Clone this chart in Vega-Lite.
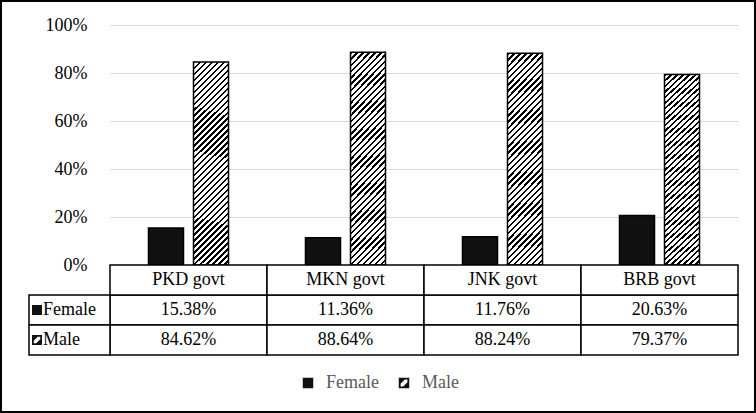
{
  "$schema": "https://vega.github.io/schema/vega-lite/v6.json",
  "width": 754,
  "height": 411,
  "padding": 1,
  "autosize": "none",
  "background": "white",
  "config": {
    "view": {"stroke": "black", "strokeWidth": 2},
    "axis": {"labelFont": "Liberation Serif", "labelFontSize": 18, "labelColor": "black"},
    "text": {"font": "Liberation Serif", "fontSize": 18, "fill": "black"}
  },
  "data": {
    "values": [
      {"cat": "PKD govt", "series": "Female", "value": 0.1538},
      {"cat": "MKN govt", "series": "Female", "value": 0.1136},
      {"cat": "JNK govt", "series": "Female", "value": 0.1176},
      {"cat": "BRB govt", "series": "Female", "value": 0.2063},
      {"cat": "PKD govt", "series": "Male", "value": 0.8462},
      {"cat": "MKN govt", "series": "Male", "value": 0.8864},
      {"cat": "JNK govt", "series": "Male", "value": 0.8824},
      {"cat": "BRB govt", "series": "Male", "value": 0.7937}
    ]
  },
  "layer": [
    {
      "mark": {"type": "bar", "stroke": "black", "strokeWidth": 1.5},
      "encoding": {
        "x": {"field": "cat", "type": "nominal", "scale": {"domain": ["PKD govt", "MKN govt", "JNK govt", "BRB govt"], "range": [109, 737], "paddingInner": 0, "paddingOuter": 0}, "axis": null},
        "xOffset": {"field": "series", "type": "nominal", "scale": {"domain": ["Female", "Male"], "paddingInner": 0.222, "paddingOuter": 0.855}},
        "y": {"field": "value", "type": "quantitative", "scale": {"domain": [0, 1], "range": [264, 24]},
          "axis": {"values": [0, 0.2, 0.4, 0.6, 0.8, 1], "format": ".0%", "grid": true, "gridColor": "#d9d9d9", "gridWidth": 1, "domain": false, "ticks": false, "tickSize": 0, "labelPadding": 23, "offset": -109, "title": null}},
        "fill": {
          "condition": {"test": "datum.series === 'Female'", "value": "#111111"},
          "value": {
            "gradient": "linear", "x1": 0, "y1": 0, "x2": 0.194, "y2": 1.138,
            "stops": [
              {"offset": 0, "color": "black"}, {"offset": 0.01, "color": "black"}, {"offset": 0.01, "color": "white"}, {"offset": 0.025, "color": "white"},
              {"offset": 0.025, "color": "black"}, {"offset": 0.035, "color": "black"}, {"offset": 0.035, "color": "white"}, {"offset": 0.05, "color": "white"},
              {"offset": 0.05, "color": "black"}, {"offset": 0.06, "color": "black"}, {"offset": 0.06, "color": "white"}, {"offset": 0.075, "color": "white"},
              {"offset": 0.075, "color": "black"}, {"offset": 0.085, "color": "black"}, {"offset": 0.085, "color": "white"}, {"offset": 0.1, "color": "white"},
              {"offset": 0.1, "color": "black"}, {"offset": 0.11, "color": "black"}, {"offset": 0.11, "color": "white"}, {"offset": 0.125, "color": "white"},
              {"offset": 0.125, "color": "black"}, {"offset": 0.135, "color": "black"}, {"offset": 0.135, "color": "white"}, {"offset": 0.15, "color": "white"},
              {"offset": 0.15, "color": "black"}, {"offset": 0.16, "color": "black"}, {"offset": 0.16, "color": "white"}, {"offset": 0.175, "color": "white"},
              {"offset": 0.175, "color": "black"}, {"offset": 0.185, "color": "black"}, {"offset": 0.185, "color": "white"}, {"offset": 0.2, "color": "white"},
              {"offset": 0.2, "color": "black"}, {"offset": 0.21, "color": "black"}, {"offset": 0.21, "color": "white"}, {"offset": 0.225, "color": "white"},
              {"offset": 0.225, "color": "black"}, {"offset": 0.235, "color": "black"}, {"offset": 0.235, "color": "white"}, {"offset": 0.25, "color": "white"},
              {"offset": 0.25, "color": "black"}, {"offset": 0.26, "color": "black"}, {"offset": 0.26, "color": "white"}, {"offset": 0.275, "color": "white"},
              {"offset": 0.275, "color": "black"}, {"offset": 0.285, "color": "black"}, {"offset": 0.285, "color": "white"}, {"offset": 0.3, "color": "white"},
              {"offset": 0.3, "color": "black"}, {"offset": 0.31, "color": "black"}, {"offset": 0.31, "color": "white"}, {"offset": 0.325, "color": "white"},
              {"offset": 0.325, "color": "black"}, {"offset": 0.335, "color": "black"}, {"offset": 0.335, "color": "white"}, {"offset": 0.35, "color": "white"},
              {"offset": 0.35, "color": "black"}, {"offset": 0.36, "color": "black"}, {"offset": 0.36, "color": "white"}, {"offset": 0.375, "color": "white"},
              {"offset": 0.375, "color": "black"}, {"offset": 0.385, "color": "black"}, {"offset": 0.385, "color": "white"}, {"offset": 0.4, "color": "white"},
              {"offset": 0.4, "color": "black"}, {"offset": 0.41, "color": "black"}, {"offset": 0.41, "color": "white"}, {"offset": 0.425, "color": "white"},
              {"offset": 0.425, "color": "black"}, {"offset": 0.435, "color": "black"}, {"offset": 0.435, "color": "white"}, {"offset": 0.45, "color": "white"},
              {"offset": 0.45, "color": "black"}, {"offset": 0.46, "color": "black"}, {"offset": 0.46, "color": "white"}, {"offset": 0.475, "color": "white"},
              {"offset": 0.475, "color": "black"}, {"offset": 0.485, "color": "black"}, {"offset": 0.485, "color": "white"}, {"offset": 0.5, "color": "white"},
              {"offset": 0.5, "color": "black"}, {"offset": 0.51, "color": "black"}, {"offset": 0.51, "color": "white"}, {"offset": 0.525, "color": "white"},
              {"offset": 0.525, "color": "black"}, {"offset": 0.535, "color": "black"}, {"offset": 0.535, "color": "white"}, {"offset": 0.55, "color": "white"},
              {"offset": 0.55, "color": "black"}, {"offset": 0.56, "color": "black"}, {"offset": 0.56, "color": "white"}, {"offset": 0.575, "color": "white"},
              {"offset": 0.575, "color": "black"}, {"offset": 0.585, "color": "black"}, {"offset": 0.585, "color": "white"}, {"offset": 0.6, "color": "white"},
              {"offset": 0.6, "color": "black"}, {"offset": 0.61, "color": "black"}, {"offset": 0.61, "color": "white"}, {"offset": 0.625, "color": "white"},
              {"offset": 0.625, "color": "black"}, {"offset": 0.635, "color": "black"}, {"offset": 0.635, "color": "white"}, {"offset": 0.65, "color": "white"},
              {"offset": 0.65, "color": "black"}, {"offset": 0.66, "color": "black"}, {"offset": 0.66, "color": "white"}, {"offset": 0.675, "color": "white"},
              {"offset": 0.675, "color": "black"}, {"offset": 0.685, "color": "black"}, {"offset": 0.685, "color": "white"}, {"offset": 0.7, "color": "white"},
              {"offset": 0.7, "color": "black"}, {"offset": 0.71, "color": "black"}, {"offset": 0.71, "color": "white"}, {"offset": 0.725, "color": "white"},
              {"offset": 0.725, "color": "black"}, {"offset": 0.735, "color": "black"}, {"offset": 0.735, "color": "white"}, {"offset": 0.75, "color": "white"},
              {"offset": 0.75, "color": "black"}, {"offset": 0.76, "color": "black"}, {"offset": 0.76, "color": "white"}, {"offset": 0.775, "color": "white"},
              {"offset": 0.775, "color": "black"}, {"offset": 0.785, "color": "black"}, {"offset": 0.785, "color": "white"}, {"offset": 0.8, "color": "white"},
              {"offset": 0.8, "color": "black"}, {"offset": 0.81, "color": "black"}, {"offset": 0.81, "color": "white"}, {"offset": 0.825, "color": "white"},
              {"offset": 0.825, "color": "black"}, {"offset": 0.835, "color": "black"}, {"offset": 0.835, "color": "white"}, {"offset": 0.85, "color": "white"},
              {"offset": 0.85, "color": "black"}, {"offset": 0.86, "color": "black"}, {"offset": 0.86, "color": "white"}, {"offset": 0.875, "color": "white"},
              {"offset": 0.875, "color": "black"}, {"offset": 0.885, "color": "black"}, {"offset": 0.885, "color": "white"}, {"offset": 0.9, "color": "white"},
              {"offset": 0.9, "color": "black"}, {"offset": 0.91, "color": "black"}, {"offset": 0.91, "color": "white"}, {"offset": 0.925, "color": "white"},
              {"offset": 0.925, "color": "black"}, {"offset": 0.935, "color": "black"}, {"offset": 0.935, "color": "white"}, {"offset": 0.95, "color": "white"},
              {"offset": 0.95, "color": "black"}, {"offset": 0.96, "color": "black"}, {"offset": 0.96, "color": "white"}, {"offset": 0.975, "color": "white"},
              {"offset": 0.975, "color": "black"}, {"offset": 0.985, "color": "black"}, {"offset": 0.985, "color": "white"}, {"offset": 1, "color": "white"}
            ]
          }
        }
      }
    },
    {
      "mark": {"type": "rect", "fill": "white", "stroke": "black", "strokeWidth": 1.5},
      "encoding": {
        "x": {"field": "cat", "type": "nominal", "scale": {"domain": ["PKD govt", "MKN govt", "JNK govt", "BRB govt"], "range": [109, 737], "paddingInner": 0, "paddingOuter": 0}, "axis": null},
        "y": {"field": "series", "type": "nominal", "scale": {"domain": ["header", "Female", "Male"], "range": [264, 354], "paddingInner": 0, "paddingOuter": 0}, "axis": null}
      }
    },
    {
      "transform": [{"filter": "datum.series === 'Female'"}],
      "mark": {"type": "rect", "fill": "white", "stroke": "black", "strokeWidth": 1.5},
      "encoding": {
        "x": {"field": "cat", "type": "nominal", "scale": {"domain": ["PKD govt", "MKN govt", "JNK govt", "BRB govt"], "range": [109, 737], "paddingInner": 0, "paddingOuter": 0}, "axis": null},
        "y": {"datum": "header", "type": "nominal", "scale": {"domain": ["header", "Female", "Male"], "range": [264, 354], "paddingInner": 0, "paddingOuter": 0}, "axis": null}
      }
    },
    {
      "transform": [{"filter": "datum.series === 'Female'"}],
      "mark": {"type": "text"},
      "encoding": {
        "x": {"field": "cat", "type": "nominal", "scale": {"domain": ["PKD govt", "MKN govt", "JNK govt", "BRB govt"], "range": [109, 737], "paddingInner": 0, "paddingOuter": 0}, "axis": null},
        "y": {"datum": "header", "type": "nominal", "scale": {"domain": ["header", "Female", "Male"], "range": [264, 354], "paddingInner": 0, "paddingOuter": 0}, "axis": null},
        "text": {"field": "cat", "type": "nominal"}
      }
    },
    {
      "mark": {"type": "text"},
      "encoding": {
        "x": {"field": "cat", "type": "nominal", "scale": {"domain": ["PKD govt", "MKN govt", "JNK govt", "BRB govt"], "range": [109, 737], "paddingInner": 0, "paddingOuter": 0}, "axis": null},
        "y": {"field": "series", "type": "nominal", "scale": {"domain": ["header", "Female", "Male"], "range": [264, 354], "paddingInner": 0, "paddingOuter": 0}, "axis": null},
        "text": {"field": "value", "type": "quantitative", "format": ".2%"}
      }
    },
    {
      "transform": [{"filter": "datum.cat === 'PKD govt'"}],
      "mark": {"type": "rect", "fill": "white", "stroke": "black", "strokeWidth": 1.5},
      "encoding": {
        "x": {"datum": "label", "type": "nominal", "scale": {"domain": ["label"], "range": [28, 109], "paddingInner": 0, "paddingOuter": 0}, "axis": null},
        "y": {"field": "series", "type": "nominal", "scale": {"domain": ["header", "Female", "Male"], "range": [264, 354], "paddingInner": 0, "paddingOuter": 0}, "axis": null}
      }
    },
    {
      "transform": [{"filter": "datum.cat === 'PKD govt'"}],
      "mark": {"type": "point", "filled": true, "color": "#111111", "opacity": 1, "size": 100, "strokeWidth": 0},
      "encoding": {
        "x": {"datum": "key", "type": "nominal", "scale": {"domain": ["key"], "range": [28, 44], "paddingInner": 0, "paddingOuter": 0}, "axis": null},
        "y": {"field": "series", "type": "nominal", "scale": {"domain": ["header", "Female", "Male"], "range": [264, 354], "paddingInner": 0, "paddingOuter": 0}, "axis": null},
        "shape": {"field": "series", "type": "nominal",
          "scale": {"domain": ["Female", "Male"], "range": ["M-1,-1H1V1H-1Z", "M-1,-1H1V1H-1Z M-0.65,0.65L-0.15,0.65L0.65,-0.15L0.65,-0.65L0.15,-0.65L-0.65,0.15Z"]},
          "legend": {"orient": "none", "legendX": 298, "legendY": 373, "direction": "horizontal", "title": null, "labelFont": "Liberation Serif", "labelFontSize": 18, "labelColor": "#595959", "symbolSize": 110, "labelOffset": 9, "columnPadding": 16, "padding": 0, "symbolStrokeWidth": 0}}
      }
    },
    {
      "transform": [{"filter": "datum.cat === 'PKD govt'"}],
      "mark": {"type": "text", "align": "left"},
      "encoding": {
        "x": {"datum": "text", "type": "nominal", "scale": {"domain": ["text"], "range": [28, 56], "paddingInner": 0, "paddingOuter": 0}, "axis": null},
        "y": {"field": "series", "type": "nominal", "scale": {"domain": ["header", "Female", "Male"], "range": [264, 354], "paddingInner": 0, "paddingOuter": 0}, "axis": null},
        "text": {"field": "series", "type": "nominal"}
      }
    }
  ],
  "resolve": {"scale": {"x": "independent", "y": "independent", "shape": "independent"}}
}
